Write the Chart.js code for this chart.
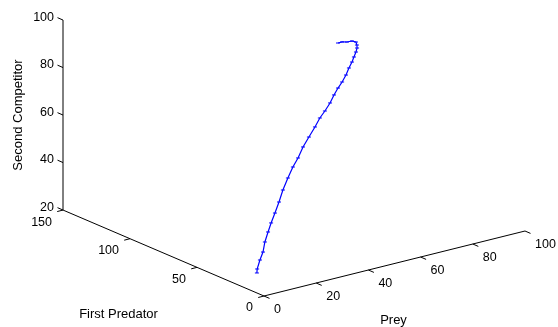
<!DOCTYPE html>
<html>
<head>
    <title>Prey / First Predator / Second Competitor</title>
    <script src="https://cdn.jsdelivr.net/npm/chart.js"></script>
    <style>
        body {
            margin: 0;
            background: #fff;
        }
        .chart-container {
            width: 558px;
            height: 327px;
        }
    </style>
</head>
<body>
    <div class="chart-container">
        <canvas id="phaseChart"></canvas>
    </div>
    <script>
        // trajectory
        const prey = [1.9, 2.2, 4.6, 6.5, 8.6, 11.0, 13.5, 16.0, 19.2, 22.9, 26.2, 29.6, 32.6, 36.0, 39.7, 43.5, 46.4,
            48.9, 52.0, 54.8, 57.0, 59.4, 61.6, 63.6, 65.7, 67.0, 68.3, 69.5, 69.8, 70.6, 70.2, 68.7, 67.8, 66.5];
        const predator = [9.0, 9.4, 12.0, 13.4, 16.1, 18.4, 21.0, 23.0, 26.2, 30.5, 33.2, 36.1, 38.1, 41.0, 43.8, 46.7, 48.7,
            49.8, 52.0, 54.5, 55.8, 57.4, 58.8, 60.5, 62.3, 63.4, 64.4, 65.9, 66.6, 68.9, 71.1, 71.9, 73.8, 74.3];
        const competitor = [27, 28.5, 31, 33.5, 36.5, 39.5, 42, 45, 48, 51, 54.5, 57.5, 60, 63, 65.5, 68, 70.5,
            72.5, 74.5, 76.5, 78.5, 80, 82, 84, 85.5, 87, 88.5, 89.5, 90.5, 91, 91, 90.8, 90.6, 90.4];

        // axis ticks
        const preyTicks = [0, 20, 40, 60, 80, 100];
        const predatorTicks = [0, 50, 100, 150];
        const competitorTicks = [20, 40, 60, 80, 100];

        // oblique view: how far one data unit of each axis moves on screen
        const zBase = competitorTicks[0];
        function project(p, q, z) {
            return {
                x: 2.61 * p - 1.34 * q,
                y: 0.65 * p + 0.573 * q + 2.375 * (z - zBase)
            };
        }

        const points = prey.map((p, i) => project(p, predator[i], competitor[i]));

        const TICK_FONT = '12.5px Arial, "Liberation Sans", sans-serif';
        const TITLE_FONT = '13px Arial, "Liberation Sans", sans-serif';

        // draws the three axes of the box
        const axesPlugin = {
            id: 'axes3d',
            beforeDatasetsDraw(chart) {
                const ctx = chart.ctx;
                const sx = chart.scales.x, sy = chart.scales.y;
                const px = (p, q, z) => {
                    const v = project(p, q, z);
                    return [sx.getPixelForValue(v.x), sy.getPixelForValue(v.y)];
                };
                const line = (a, b) => {
                    ctx.beginPath();
                    ctx.moveTo(a[0], a[1]);
                    ctx.lineTo(b[0], b[1]);
                    ctx.stroke();
                };
                const preyMax = preyTicks[preyTicks.length - 1];
                const predMax = predatorTicks[predatorTicks.length - 1];
                const zMax = competitorTicks[competitorTicks.length - 1];

                ctx.save();
                ctx.strokeStyle = '#000';
                ctx.fillStyle = '#000';
                ctx.lineWidth = 1;
                ctx.font = TICK_FONT;

                // prey axis
                line(px(0, 0, zBase), px(preyMax, 0, zBase));
                ctx.textAlign = 'left';
                ctx.textBaseline = 'middle';
                preyTicks.forEach(t => {
                    const a = px(t, 0, zBase);
                    line(a, [a[0] + 5.5, a[1] + 2.4]);
                    ctx.fillText(String(t), a[0] + 10, a[1] + 14);
                });

                // predator axis
                line(px(0, 0, zBase), px(0, predMax, zBase));
                ctx.textAlign = 'right';
                predatorTicks.forEach(t => {
                    const a = px(0, t, zBase);
                    line(a, [a[0] - 5.8, a[1] + 1.5]);
                    ctx.fillText(String(t), a[0] - 11, a[1] + 12);
                });

                // competitor axis
                line(px(0, predMax, zBase), px(0, predMax, zMax));
                competitorTicks.forEach(t => {
                    const a = px(0, predMax, t);
                    line(a, [a[0] - 5.5, a[1] - 2.4]);
                    ctx.fillText(String(t), a[0] - 9, a[1] - 3);
                });

                // axis titles
                ctx.font = TITLE_FONT;
                ctx.textAlign = 'center';
                const pm = px(preyMax / 2, 0, zBase);
                ctx.fillText('Prey', pm[0] - 1, pm[1] + 57);
                const qm = px(0, predMax / 2, zBase);
                ctx.fillText('First Predator', qm[0] - 45, qm[1] + 61);
                const zm = px(0, predMax, (zBase + zMax) / 2);
                ctx.translate(zm[0] - 45, zm[1]);
                ctx.rotate(-Math.PI / 2);
                ctx.fillText('Second Competitor', 0, 0);
                ctx.restore();
            }
        };

        const ctx = document.getElementById('phaseChart').getContext('2d');
        new Chart(ctx, {
            type: 'scatter',
            data: {
                datasets: [
                    {
                        label: 'trajectory',
                        data: points,
                        showLine: true,
                        borderColor: 'rgb(0, 0, 255)',
                        borderWidth: 1.2,
                        pointStyle: 'line',
                        pointRadius: 2,
                        pointBorderWidth: 1,
                        pointBorderColor: 'rgb(0, 0, 255)',
                        tension: 0
                    }
                ]
            },
            options: {
                responsive: true,
                maintainAspectRatio: false,
                animation: false,
                layout: { padding: 0, autoPadding: false },
                plugins: {
                    legend: { display: false },
                    tooltip: { enabled: false }
                },
                scales: {
                    x: { type: 'linear', min: -264, max: 294, display: false },
                    y: { type: 'linear', min: -31, max: 296, display: false }
                }
            },
            plugins: [axesPlugin]
        });
    </script>
</body>
</html>
